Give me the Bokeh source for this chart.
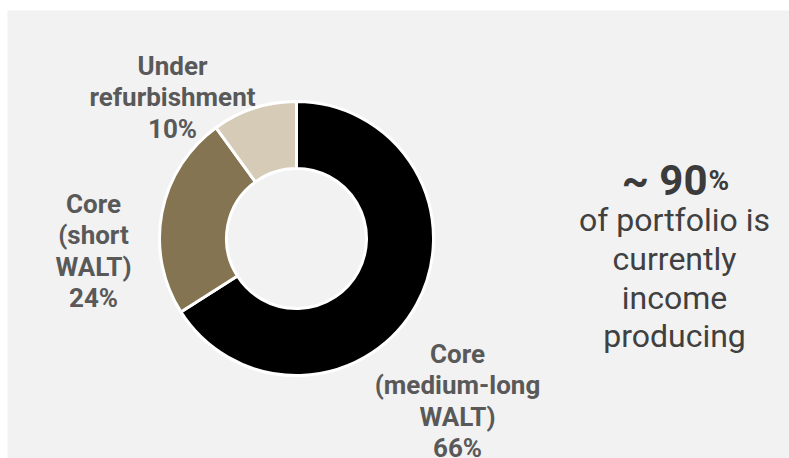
import numpy as np
from bokeh.plotting import figure
from bokeh.models import Range1d, ColumnDataSource
from bokeh.core.properties import value
from bokeh.embed import file_html
from bokeh.resources import INLINE

# ---- data ----
categories = ["Core (medium-long WALT)", "Core (short WALT)", "Under refurbishment"]
label_lines = [["Core", "(medium-long", "WALT)"],
               ["Core", "(short", "WALT)"],
               ["Under", "refurbishment"]]
shares = [66, 24, 10]
colors = ["#000000", "#857451", "#d6cbb7"]
headline_value = 90
headline_lines = ["of portfolio is", "currently", "income", "producing"]

# ---- layout ----
W, H = 789, 458
TOP, LEFT = 10, 7
p = figure(width=W, height=H, output_backend="svg", toolbar_location=None,
           x_range=Range1d(0, W - LEFT), y_range=Range1d(0, H - TOP),
           x_axis_location=None, y_axis_location=None,
           min_border=0, min_border_top=TOP, min_border_left=LEFT,
           border_fill_color="white", background_fill_color="#f2f2f2",
           outline_line_color=None)
p.grid.visible = False

cx, cy = 289, 220
cum = np.concatenate([[0], np.cumsum(shares)])
total = cum[-1]
start = np.pi / 2 - 2 * np.pi * cum[:-1] / total
end = np.pi / 2 - 2 * np.pi * cum[1:] / total
src = ColumnDataSource(dict(start=start, end=end, color=colors, cat=categories))
p.annular_wedge(x=cx, y=cy, inner_radius=70, outer_radius=137,
                inner_radius_units="screen", outer_radius_units="screen",
                start_angle="start", end_angle="end", direction="clock",
                fill_color="color", line_color="white", line_width=3, source=src)

# category labels
label_pos = [(450, 105), (86, 255), (165, 393)]
step = 31.5
xs, ys, ts = [], [], []
for lines, v, (lx, ly) in zip(label_lines, shares, label_pos):
    all_lines = lines + [f"{v}%"]
    for i, t in enumerate(all_lines):
        xs.append(lx)
        ys.append(ly - i * step)
        ts.append(t)
p.text(x=xs, y=ys, text=ts, text_font=value("Roboto"), text_font_style="bold",
       text_font_size="26px", text_color="#595959", text_align="center",
       text_baseline="alphabetic")

# headline
p.text(x=[700], y=[278], text=[f"~ {headline_value}"], text_font=value("Roboto"),
       text_font_style="bold", text_font_size="42px", text_color="#3b3b3b",
       text_align="right", text_baseline="alphabetic")
p.text(x=[701], y=[278], text=["%"], text_font=value("Roboto"),
       text_font_style="bold", text_font_size="28px", text_color="#3b3b3b",
       text_align="left", text_baseline="alphabetic")
hy = [239, 200, 161, 123]
p.text(x=[667] * len(headline_lines), y=hy, text=headline_lines,
       text_font=value("Roboto"), text_font_size="32px", text_color="#404040",
       text_align="center", text_baseline="alphabetic")

open("out.html", "w").write(file_html(p, INLINE))
